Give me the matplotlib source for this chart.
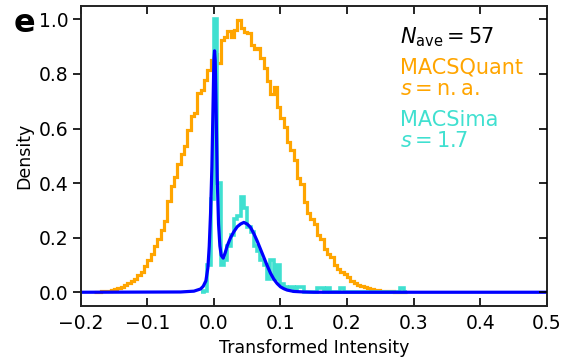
import numpy as np
import matplotlib
matplotlib.use("Agg")
import matplotlib.pyplot as plt

plt.rcParams["mathtext.fontset"] = "dejavusans"

# MACSQuant histogram (bin width 0.005, left edges from -0.18)
quant_start = -0.18
quant_width = 0.005
quant_density = [
    0.000, 0.002, 0.003, 0.004, 0.006, 0.008, 0.011, 0.014, 0.020, 0.025,
    0.033, 0.040, 0.048, 0.062, 0.075, 0.095, 0.118, 0.142, 0.168, 0.197,
    0.228, 0.262, 0.333, 0.388, 0.424, 0.470, 0.505, 0.535, 0.595, 0.645,
    0.657, 0.730, 0.740, 0.778, 0.815, 0.850, 0.875, 0.840, 0.925, 0.936,
    0.958, 0.936, 0.960, 0.997, 0.970, 0.954, 0.950, 0.905, 0.890, 0.895,
    0.860, 0.822, 0.775, 0.725, 0.752, 0.680, 0.640, 0.607, 0.552, 0.522,
    0.485, 0.420, 0.395, 0.330, 0.290, 0.270, 0.250, 0.211, 0.195, 0.160,
    0.140, 0.130, 0.101, 0.085, 0.075, 0.068, 0.055, 0.042, 0.034, 0.026,
    0.022, 0.018, 0.015, 0.012, 0.010, 0.008, 0.006, 0.005, 0.004, 0.003,
    0.002, 0.002, 0.001, 0.001,
]

# MACSima histogram (bin width 0.005, left edges from -0.02)
sima_start = -0.02
sima_width = 0.005
sima_density = [
    0.000, 0.005, 0.100, 0.340, 1.000, 0.400, 0.100, 0.120, 0.170, 0.210,
    0.270, 0.280, 0.350, 0.310, 0.240, 0.220, 0.170, 0.150, 0.120, 0.100,
    0.050, 0.120, 0.050, 0.100, 0.030, 0.020, 0.015, 0.020, 0.005, 0.020,
    0.020, 0.000, 0.000, 0.000, 0.000, 0.015, 0.015, 0.000, 0.015, 0.000,
    0.000, 0.000, 0.015, 0.000, 0.000, 0.000, 0.000, 0.000, 0.000, 0.000,
    0.000, 0.000, 0.000, 0.000, 0.000, 0.000, 0.000, 0.000, 0.000, 0.000,
    0.015, 0.000,
]

# fitted curve
fit_x = [-0.2, -0.05, -0.03, -0.02, -0.016, -0.012, -0.009, -0.007, -0.005,
         -0.003, -0.001, 0.0, 0.001, 0.002, 0.003, 0.005, 0.007, 0.009, 0.011,
         0.014, 0.017, 0.020, 0.025, 0.030, 0.035, 0.040, 0.045, 0.050, 0.055,
         0.060, 0.065, 0.070, 0.075, 0.080, 0.085, 0.090, 0.095, 0.100, 0.105,
         0.110, 0.120, 0.135, 0.150, 0.5]
fit_y = [0.0, 0.001, 0.004, 0.012, 0.022, 0.042, 0.090, 0.168, 0.290,
         0.460, 0.720, 0.850, 0.885, 0.850, 0.720, 0.420, 0.250, 0.170, 0.135,
         0.125, 0.145, 0.170, 0.200, 0.222, 0.240, 0.250, 0.256, 0.250, 0.238,
         0.215, 0.188, 0.158, 0.128, 0.098, 0.070, 0.048, 0.032, 0.020, 0.013,
         0.008, 0.003, 0.001, 0.0, 0.0]

quant_edges = quant_start + quant_width * np.arange(len(quant_density) + 1)
sima_edges = sima_start + sima_width * np.arange(len(sima_density) + 1)

fig = plt.figure(figsize=(5.81, 3.62), dpi=100)
ax = fig.add_axes([0.139, 0.155, 0.802, 0.829])

ax.stairs(quant_density, quant_edges, color="orange", lw=2.3)
ax.stairs(sima_density, sima_edges, color="turquoise", lw=2.6)
ax.plot(fit_x, fit_y, color="blue", lw=2.3)

ax.set_xlim(-0.2, 0.5)
ax.set_ylim(-0.05, 1.05)
ax.set_xticks(np.arange(-0.2, 0.51, 0.1))
ax.set_yticks(np.arange(0, 1.01, 0.2))
ax.set_xlabel("Transformed Intensity", fontsize=12.5)
ax.set_ylabel("Density", fontsize=12.5)

for s in ax.spines.values():
    s.set_linewidth(1.4)
    s.set_color("#222222")
ax.tick_params(axis="x", direction="in", top=True, length=5.5, width=1.2,
               labelsize=13.5, pad=6)
ax.tick_params(axis="y", direction="out", right=False, length=5.5, width=1.2,
               labelsize=13.5)

ax2 = ax.twinx()
ax2.set_ylim(ax.get_ylim())
ax2.set_yticks(np.arange(0, 1.01, 0.2))
ax2.tick_params(axis="y", direction="in", length=5.5, width=1.2, labelright=False)
for s in ax2.spines.values():
    s.set_visible(False)

ax.text(0.685, 0.895, r"$N_{\mathrm{ave}} = 57$", transform=ax.transAxes,
        fontsize=15, va="center", color="black")
ax.text(0.685, 0.795, "MACSQuant", transform=ax.transAxes,
        fontsize=15, va="center", color="orange")
ax.text(0.685, 0.722, r"$s = \mathrm{n.a.}$", transform=ax.transAxes,
        fontsize=15, va="center", color="orange")
ax.text(0.685, 0.618, "MACSima", transform=ax.transAxes,
        fontsize=15, va="center", color="turquoise")
ax.text(0.685, 0.548, r"$s = 1.7$", transform=ax.transAxes,
        fontsize=15, va="center", color="turquoise")

fig.text(24 / 581, 1 - 24 / 362, "e", fontsize=23, fontweight="bold",
         ha="center", va="center")

fig.savefig("out.png", dpi=100)
